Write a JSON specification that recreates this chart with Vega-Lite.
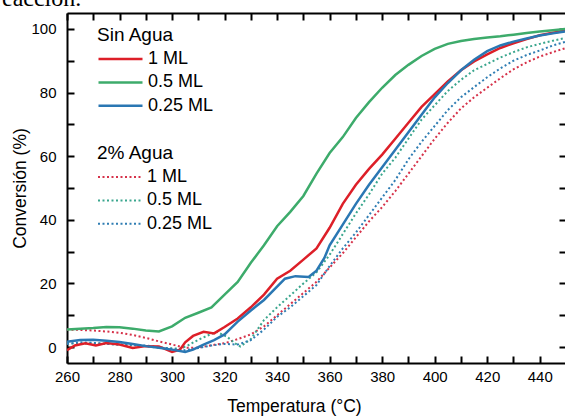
{
  "$schema": "https://vega.github.io/schema/vega-lite/v6.json",
  "autosize": "none",
  "width": 499,
  "height": 350,
  "padding": {"left": 67, "top": 13, "right": 0, "bottom": 54},
  "background": "white",
  "title": {"text": "reacción.", "font": "Liberation Serif", "fontSize": 24, "fontWeight": "normal", "anchor": "start", "frame": "group", "dx": -73, "offset": -18, "baseline": "alphabetic", "color": "black"},
  "config": {"view": {"stroke": null}},
  "datasets": {
    "d": [
      {"agua":"Sin Agua","serie":"1 ML","T":260,"conv":-1.0},{"agua":"Sin Agua","serie":"1 ML","T":263,"conv":0.5},{"agua":"Sin Agua","serie":"1 ML","T":267,"conv":1.2},{"agua":"Sin Agua","serie":"1 ML","T":271,"conv":0.5},{"agua":"Sin Agua","serie":"1 ML","T":275,"conv":1.3},{"agua":"Sin Agua","serie":"1 ML","T":280,"conv":0.8},{"agua":"Sin Agua","serie":"1 ML","T":285,"conv":-0.3},{"agua":"Sin Agua","serie":"1 ML","T":290,"conv":0.3},{"agua":"Sin Agua","serie":"1 ML","T":295,"conv":0.2},{"agua":"Sin Agua","serie":"1 ML","T":300,"conv":-1.5},{"agua":"Sin Agua","serie":"1 ML","T":303,"conv":-0.8},{"agua":"Sin Agua","serie":"1 ML","T":305,"conv":1.5},{"agua":"Sin Agua","serie":"1 ML","T":308,"conv":3.5},{"agua":"Sin Agua","serie":"1 ML","T":312,"conv":4.8},{"agua":"Sin Agua","serie":"1 ML","T":316,"conv":4.3},{"agua":"Sin Agua","serie":"1 ML","T":320,"conv":6.3},{"agua":"Sin Agua","serie":"1 ML","T":325,"conv":9.0},{"agua":"Sin Agua","serie":"1 ML","T":330,"conv":12.5},{"agua":"Sin Agua","serie":"1 ML","T":335,"conv":16.5},{"agua":"Sin Agua","serie":"1 ML","T":340,"conv":21.5},{"agua":"Sin Agua","serie":"1 ML","T":345,"conv":24.0},{"agua":"Sin Agua","serie":"1 ML","T":350,"conv":27.5},{"agua":"Sin Agua","serie":"1 ML","T":355,"conv":31.0},{"agua":"Sin Agua","serie":"1 ML","T":360,"conv":37.5},{"agua":"Sin Agua","serie":"1 ML","T":365,"conv":45.0},{"agua":"Sin Agua","serie":"1 ML","T":370,"conv":51.0},{"agua":"Sin Agua","serie":"1 ML","T":375,"conv":56.0},{"agua":"Sin Agua","serie":"1 ML","T":380,"conv":60.5},{"agua":"Sin Agua","serie":"1 ML","T":385,"conv":65.5},{"agua":"Sin Agua","serie":"1 ML","T":390,"conv":70.5},{"agua":"Sin Agua","serie":"1 ML","T":395,"conv":75.5},{"agua":"Sin Agua","serie":"1 ML","T":400,"conv":79.5},{"agua":"Sin Agua","serie":"1 ML","T":405,"conv":83.5},{"agua":"Sin Agua","serie":"1 ML","T":410,"conv":87.0},{"agua":"Sin Agua","serie":"1 ML","T":415,"conv":89.8},{"agua":"Sin Agua","serie":"1 ML","T":420,"conv":92.0},{"agua":"Sin Agua","serie":"1 ML","T":425,"conv":94.0},{"agua":"Sin Agua","serie":"1 ML","T":430,"conv":95.5},{"agua":"Sin Agua","serie":"1 ML","T":435,"conv":96.8},{"agua":"Sin Agua","serie":"1 ML","T":440,"conv":98.0},{"agua":"Sin Agua","serie":"1 ML","T":445,"conv":98.8},{"agua":"Sin Agua","serie":"1 ML","T":450,"conv":99.5},

      {"agua":"Sin Agua","serie":"0.5 ML","T":260,"conv":5.5},{"agua":"Sin Agua","serie":"0.5 ML","T":265,"conv":5.8},{"agua":"Sin Agua","serie":"0.5 ML","T":270,"conv":6.0},{"agua":"Sin Agua","serie":"0.5 ML","T":275,"conv":6.3},{"agua":"Sin Agua","serie":"0.5 ML","T":280,"conv":6.2},{"agua":"Sin Agua","serie":"0.5 ML","T":285,"conv":5.8},{"agua":"Sin Agua","serie":"0.5 ML","T":290,"conv":5.2},{"agua":"Sin Agua","serie":"0.5 ML","T":295,"conv":4.9},{"agua":"Sin Agua","serie":"0.5 ML","T":300,"conv":6.5},{"agua":"Sin Agua","serie":"0.5 ML","T":305,"conv":9.2},{"agua":"Sin Agua","serie":"0.5 ML","T":310,"conv":10.8},{"agua":"Sin Agua","serie":"0.5 ML","T":315,"conv":12.5},{"agua":"Sin Agua","serie":"0.5 ML","T":320,"conv":16.5},{"agua":"Sin Agua","serie":"0.5 ML","T":325,"conv":20.5},{"agua":"Sin Agua","serie":"0.5 ML","T":330,"conv":26.5},{"agua":"Sin Agua","serie":"0.5 ML","T":335,"conv":32.0},{"agua":"Sin Agua","serie":"0.5 ML","T":340,"conv":38.0},{"agua":"Sin Agua","serie":"0.5 ML","T":345,"conv":42.5},{"agua":"Sin Agua","serie":"0.5 ML","T":350,"conv":47.5},{"agua":"Sin Agua","serie":"0.5 ML","T":355,"conv":54.5},{"agua":"Sin Agua","serie":"0.5 ML","T":360,"conv":61.0},{"agua":"Sin Agua","serie":"0.5 ML","T":365,"conv":66.0},{"agua":"Sin Agua","serie":"0.5 ML","T":370,"conv":72.0},{"agua":"Sin Agua","serie":"0.5 ML","T":375,"conv":77.0},{"agua":"Sin Agua","serie":"0.5 ML","T":380,"conv":81.5},{"agua":"Sin Agua","serie":"0.5 ML","T":385,"conv":85.5},{"agua":"Sin Agua","serie":"0.5 ML","T":390,"conv":88.7},{"agua":"Sin Agua","serie":"0.5 ML","T":395,"conv":91.5},{"agua":"Sin Agua","serie":"0.5 ML","T":400,"conv":93.7},{"agua":"Sin Agua","serie":"0.5 ML","T":405,"conv":95.3},{"agua":"Sin Agua","serie":"0.5 ML","T":410,"conv":96.2},{"agua":"Sin Agua","serie":"0.5 ML","T":415,"conv":96.8},{"agua":"Sin Agua","serie":"0.5 ML","T":420,"conv":97.3},{"agua":"Sin Agua","serie":"0.5 ML","T":425,"conv":97.7},{"agua":"Sin Agua","serie":"0.5 ML","T":430,"conv":98.2},{"agua":"Sin Agua","serie":"0.5 ML","T":435,"conv":98.7},{"agua":"Sin Agua","serie":"0.5 ML","T":440,"conv":99.2},{"agua":"Sin Agua","serie":"0.5 ML","T":445,"conv":99.6},{"agua":"Sin Agua","serie":"0.5 ML","T":450,"conv":100.0},

      {"agua":"Sin Agua","serie":"0.25 ML","T":260,"conv":1.7},{"agua":"Sin Agua","serie":"0.25 ML","T":265,"conv":2.2},{"agua":"Sin Agua","serie":"0.25 ML","T":270,"conv":2.3},{"agua":"Sin Agua","serie":"0.25 ML","T":275,"conv":2.0},{"agua":"Sin Agua","serie":"0.25 ML","T":280,"conv":1.6},{"agua":"Sin Agua","serie":"0.25 ML","T":285,"conv":1.0},{"agua":"Sin Agua","serie":"0.25 ML","T":290,"conv":0.3},{"agua":"Sin Agua","serie":"0.25 ML","T":295,"conv":-0.2},{"agua":"Sin Agua","serie":"0.25 ML","T":300,"conv":-0.8},{"agua":"Sin Agua","serie":"0.25 ML","T":305,"conv":-1.5},{"agua":"Sin Agua","serie":"0.25 ML","T":308,"conv":-0.8},{"agua":"Sin Agua","serie":"0.25 ML","T":312,"conv":0.8},{"agua":"Sin Agua","serie":"0.25 ML","T":316,"conv":2.2},{"agua":"Sin Agua","serie":"0.25 ML","T":320,"conv":4.0},{"agua":"Sin Agua","serie":"0.25 ML","T":325,"conv":8.0},{"agua":"Sin Agua","serie":"0.25 ML","T":330,"conv":11.5},{"agua":"Sin Agua","serie":"0.25 ML","T":335,"conv":14.8},{"agua":"Sin Agua","serie":"0.25 ML","T":340,"conv":19.0},{"agua":"Sin Agua","serie":"0.25 ML","T":343,"conv":21.5},{"agua":"Sin Agua","serie":"0.25 ML","T":347,"conv":22.3},{"agua":"Sin Agua","serie":"0.25 ML","T":352,"conv":22.0},{"agua":"Sin Agua","serie":"0.25 ML","T":355,"conv":24.0},{"agua":"Sin Agua","serie":"0.25 ML","T":358,"conv":28.0},{"agua":"Sin Agua","serie":"0.25 ML","T":360,"conv":32.0},{"agua":"Sin Agua","serie":"0.25 ML","T":365,"conv":38.5},{"agua":"Sin Agua","serie":"0.25 ML","T":370,"conv":45.0},{"agua":"Sin Agua","serie":"0.25 ML","T":375,"conv":51.0},{"agua":"Sin Agua","serie":"0.25 ML","T":380,"conv":56.5},{"agua":"Sin Agua","serie":"0.25 ML","T":385,"conv":62.0},{"agua":"Sin Agua","serie":"0.25 ML","T":390,"conv":67.5},{"agua":"Sin Agua","serie":"0.25 ML","T":395,"conv":73.0},{"agua":"Sin Agua","serie":"0.25 ML","T":400,"conv":78.5},{"agua":"Sin Agua","serie":"0.25 ML","T":405,"conv":83.0},{"agua":"Sin Agua","serie":"0.25 ML","T":410,"conv":87.0},{"agua":"Sin Agua","serie":"0.25 ML","T":415,"conv":90.3},{"agua":"Sin Agua","serie":"0.25 ML","T":420,"conv":93.0},{"agua":"Sin Agua","serie":"0.25 ML","T":425,"conv":94.8},{"agua":"Sin Agua","serie":"0.25 ML","T":430,"conv":96.0},{"agua":"Sin Agua","serie":"0.25 ML","T":435,"conv":97.0},{"agua":"Sin Agua","serie":"0.25 ML","T":440,"conv":97.9},{"agua":"Sin Agua","serie":"0.25 ML","T":445,"conv":98.6},{"agua":"Sin Agua","serie":"0.25 ML","T":450,"conv":99.2},

      {"agua":"2% Agua","serie":"1 ML","T":260,"conv":5.5},{"agua":"2% Agua","serie":"1 ML","T":265,"conv":5.4},{"agua":"2% Agua","serie":"1 ML","T":270,"conv":5.2},{"agua":"2% Agua","serie":"1 ML","T":275,"conv":4.9},{"agua":"2% Agua","serie":"1 ML","T":280,"conv":4.5},{"agua":"2% Agua","serie":"1 ML","T":285,"conv":3.8},{"agua":"2% Agua","serie":"1 ML","T":290,"conv":2.9},{"agua":"2% Agua","serie":"1 ML","T":295,"conv":1.8},{"agua":"2% Agua","serie":"1 ML","T":300,"conv":0.8},{"agua":"2% Agua","serie":"1 ML","T":305,"conv":-0.2},{"agua":"2% Agua","serie":"1 ML","T":310,"conv":-0.2},{"agua":"2% Agua","serie":"1 ML","T":315,"conv":0.6},{"agua":"2% Agua","serie":"1 ML","T":320,"conv":1.2},{"agua":"2% Agua","serie":"1 ML","T":325,"conv":2.5},{"agua":"2% Agua","serie":"1 ML","T":330,"conv":4.0},{"agua":"2% Agua","serie":"1 ML","T":335,"conv":6.5},{"agua":"2% Agua","serie":"1 ML","T":340,"conv":10.0},{"agua":"2% Agua","serie":"1 ML","T":345,"conv":13.5},{"agua":"2% Agua","serie":"1 ML","T":350,"conv":17.0},{"agua":"2% Agua","serie":"1 ML","T":355,"conv":20.5},{"agua":"2% Agua","serie":"1 ML","T":360,"conv":25.0},{"agua":"2% Agua","serie":"1 ML","T":365,"conv":29.5},{"agua":"2% Agua","serie":"1 ML","T":370,"conv":34.5},{"agua":"2% Agua","serie":"1 ML","T":375,"conv":39.5},{"agua":"2% Agua","serie":"1 ML","T":380,"conv":44.0},{"agua":"2% Agua","serie":"1 ML","T":385,"conv":49.0},{"agua":"2% Agua","serie":"1 ML","T":390,"conv":54.5},{"agua":"2% Agua","serie":"1 ML","T":395,"conv":60.0},{"agua":"2% Agua","serie":"1 ML","T":400,"conv":65.5},{"agua":"2% Agua","serie":"1 ML","T":405,"conv":70.5},{"agua":"2% Agua","serie":"1 ML","T":410,"conv":75.0},{"agua":"2% Agua","serie":"1 ML","T":415,"conv":78.5},{"agua":"2% Agua","serie":"1 ML","T":420,"conv":81.5},{"agua":"2% Agua","serie":"1 ML","T":425,"conv":84.5},{"agua":"2% Agua","serie":"1 ML","T":430,"conv":87.3},{"agua":"2% Agua","serie":"1 ML","T":435,"conv":89.5},{"agua":"2% Agua","serie":"1 ML","T":440,"conv":91.3},{"agua":"2% Agua","serie":"1 ML","T":445,"conv":92.7},{"agua":"2% Agua","serie":"1 ML","T":450,"conv":94.0},

      {"agua":"2% Agua","serie":"0.5 ML","T":260,"conv":1.2},{"agua":"2% Agua","serie":"0.5 ML","T":265,"conv":1.0},{"agua":"2% Agua","serie":"0.5 ML","T":270,"conv":1.3},{"agua":"2% Agua","serie":"0.5 ML","T":275,"conv":1.0},{"agua":"2% Agua","serie":"0.5 ML","T":280,"conv":0.8},{"agua":"2% Agua","serie":"0.5 ML","T":285,"conv":0.6},{"agua":"2% Agua","serie":"0.5 ML","T":290,"conv":0.3},{"agua":"2% Agua","serie":"0.5 ML","T":295,"conv":-0.2},{"agua":"2% Agua","serie":"0.5 ML","T":300,"conv":-0.4},{"agua":"2% Agua","serie":"0.5 ML","T":303,"conv":-0.5},{"agua":"2% Agua","serie":"0.5 ML","T":306,"conv":0.5},{"agua":"2% Agua","serie":"0.5 ML","T":310,"conv":2.3},{"agua":"2% Agua","serie":"0.5 ML","T":314,"conv":3.8},{"agua":"2% Agua","serie":"0.5 ML","T":317,"conv":4.8},{"agua":"2% Agua","serie":"0.5 ML","T":321,"conv":3.2},{"agua":"2% Agua","serie":"0.5 ML","T":324,"conv":1.2},{"agua":"2% Agua","serie":"0.5 ML","T":326,"conv":0.2},{"agua":"2% Agua","serie":"0.5 ML","T":330,"conv":2.5},{"agua":"2% Agua","serie":"0.5 ML","T":335,"conv":8.5},{"agua":"2% Agua","serie":"0.5 ML","T":340,"conv":12.5},{"agua":"2% Agua","serie":"0.5 ML","T":345,"conv":16.2},{"agua":"2% Agua","serie":"0.5 ML","T":350,"conv":20.0},{"agua":"2% Agua","serie":"0.5 ML","T":355,"conv":23.5},{"agua":"2% Agua","serie":"0.5 ML","T":360,"conv":29.0},{"agua":"2% Agua","serie":"0.5 ML","T":365,"conv":35.5},{"agua":"2% Agua","serie":"0.5 ML","T":370,"conv":42.0},{"agua":"2% Agua","serie":"0.5 ML","T":375,"conv":48.0},{"agua":"2% Agua","serie":"0.5 ML","T":380,"conv":54.5},{"agua":"2% Agua","serie":"0.5 ML","T":385,"conv":59.5},{"agua":"2% Agua","serie":"0.5 ML","T":390,"conv":65.5},{"agua":"2% Agua","serie":"0.5 ML","T":395,"conv":71.5},{"agua":"2% Agua","serie":"0.5 ML","T":400,"conv":76.0},{"agua":"2% Agua","serie":"0.5 ML","T":405,"conv":80.5},{"agua":"2% Agua","serie":"0.5 ML","T":410,"conv":84.0},{"agua":"2% Agua","serie":"0.5 ML","T":415,"conv":87.0},{"agua":"2% Agua","serie":"0.5 ML","T":420,"conv":89.0},{"agua":"2% Agua","serie":"0.5 ML","T":425,"conv":91.0},{"agua":"2% Agua","serie":"0.5 ML","T":430,"conv":92.7},{"agua":"2% Agua","serie":"0.5 ML","T":435,"conv":94.2},{"agua":"2% Agua","serie":"0.5 ML","T":440,"conv":95.3},{"agua":"2% Agua","serie":"0.5 ML","T":445,"conv":96.3},{"agua":"2% Agua","serie":"0.5 ML","T":450,"conv":97.2},

      {"agua":"2% Agua","serie":"0.25 ML","T":260,"conv":1.0},{"agua":"2% Agua","serie":"0.25 ML","T":265,"conv":1.5},{"agua":"2% Agua","serie":"0.25 ML","T":270,"conv":1.3},{"agua":"2% Agua","serie":"0.25 ML","T":275,"conv":1.0},{"agua":"2% Agua","serie":"0.25 ML","T":280,"conv":0.8},{"agua":"2% Agua","serie":"0.25 ML","T":285,"conv":0.7},{"agua":"2% Agua","serie":"0.25 ML","T":290,"conv":0.5},{"agua":"2% Agua","serie":"0.25 ML","T":295,"conv":0.0},{"agua":"2% Agua","serie":"0.25 ML","T":300,"conv":-0.6},{"agua":"2% Agua","serie":"0.25 ML","T":305,"conv":-1.0},{"agua":"2% Agua","serie":"0.25 ML","T":310,"conv":-0.3},{"agua":"2% Agua","serie":"0.25 ML","T":315,"conv":0.5},{"agua":"2% Agua","serie":"0.25 ML","T":320,"conv":1.0},{"agua":"2% Agua","serie":"0.25 ML","T":325,"conv":0.8},{"agua":"2% Agua","serie":"0.25 ML","T":330,"conv":2.2},{"agua":"2% Agua","serie":"0.25 ML","T":335,"conv":5.5},{"agua":"2% Agua","serie":"0.25 ML","T":340,"conv":9.5},{"agua":"2% Agua","serie":"0.25 ML","T":345,"conv":12.5},{"agua":"2% Agua","serie":"0.25 ML","T":350,"conv":16.0},{"agua":"2% Agua","serie":"0.25 ML","T":355,"conv":19.5},{"agua":"2% Agua","serie":"0.25 ML","T":360,"conv":25.5},{"agua":"2% Agua","serie":"0.25 ML","T":365,"conv":31.0},{"agua":"2% Agua","serie":"0.25 ML","T":370,"conv":36.0},{"agua":"2% Agua","serie":"0.25 ML","T":375,"conv":41.5},{"agua":"2% Agua","serie":"0.25 ML","T":380,"conv":47.0},{"agua":"2% Agua","serie":"0.25 ML","T":385,"conv":52.5},{"agua":"2% Agua","serie":"0.25 ML","T":390,"conv":59.0},{"agua":"2% Agua","serie":"0.25 ML","T":395,"conv":64.5},{"agua":"2% Agua","serie":"0.25 ML","T":400,"conv":69.5},{"agua":"2% Agua","serie":"0.25 ML","T":405,"conv":74.5},{"agua":"2% Agua","serie":"0.25 ML","T":410,"conv":78.5},{"agua":"2% Agua","serie":"0.25 ML","T":415,"conv":81.7},{"agua":"2% Agua","serie":"0.25 ML","T":420,"conv":84.8},{"agua":"2% Agua","serie":"0.25 ML","T":425,"conv":87.6},{"agua":"2% Agua","serie":"0.25 ML","T":430,"conv":90.0},{"agua":"2% Agua","serie":"0.25 ML","T":435,"conv":91.8},{"agua":"2% Agua","serie":"0.25 ML","T":440,"conv":93.2},{"agua":"2% Agua","serie":"0.25 ML","T":445,"conv":94.8},{"agua":"2% Agua","serie":"0.25 ML","T":450,"conv":96.0}
    ]
  },
  "data": {"name": "d"},
  "layer": [
    {
      "transform": [{"filter": "datum.agua === '2% Agua'"}],
      "mark": {"type": "line", "strokeWidth": 2, "strokeDash": [2, 2.5], "clip": true},
      "encoding": {
        "x": {"field": "T", "type": "quantitative", "scale": {"domain": [260, 450], "nice": false, "zero": false},
          "axis": {"orient": "top", "values": [260,270,280,290,300,310,320,330,340,350,360,370,380,390,400,410,420,430,440], "labels": false, "title": null, "grid": false, "domainColor": "black", "domainWidth": 2, "tickColor": "black", "tickWidth": 2, "tickSize": -7,
            "encode": {"ticks": {"update": {"y2": {"signal": "datum.value % 20 === 0 ? 7 : 4"}}}}}},
        "y": {"field": "conv", "type": "quantitative", "scale": {"domain": [-5, 105], "nice": false, "zero": false},
          "axis": {"orient": "right", "values": [0,10,20,30,40,50,60,70,80,90,100], "labels": false, "title": null, "grid": false, "domainColor": "black", "domainWidth": 2, "tickColor": "black", "tickWidth": 2, "tickSize": -7,
            "encode": {"ticks": {"update": {"x2": {"signal": "datum.value % 20 === 0 ? -7 : -4"}}}}}},
        "color": {"field": "serie", "type": "nominal", "title": "2% Agua",
          "scale": {"domain": ["1 ML", "0.5 ML", "0.25 ML"], "range": ["#d6324a", "#3aa68e", "#2f7db3"]},
          "legend": {"orient": "none", "legendX": 30, "legendY": 131, "symbolType": "stroke", "symbolSize": 1936, "symbolStrokeWidth": 2, "symbolDash": [2, 2.5], "titleFont": "Liberation Sans", "titleFontSize": 19, "titleFontWeight": "normal", "titleColor": "black", "labelFont": "Liberation Sans", "labelFontSize": 18, "labelColor": "black", "labelOffset": 4, "clipHeight": 20, "rowPadding": 3.4, "titlePadding": 4}}
      }
    },
    {
      "transform": [{"filter": "datum.agua === 'Sin Agua'"}],
      "mark": {"type": "line", "strokeWidth": 2.5, "clip": true},
      "encoding": {
        "x": {"field": "T", "type": "quantitative", "title": "Temperatura (°C)",
          "axis": {"orient": "bottom", "values": [260,270,280,290,300,310,320,330,340,350,360,370,380,390,400,410,420,430,440], "labelExpr": "datum.value % 20 === 0 ? datum.label : ''", "grid": false, "domainColor": "black", "domainWidth": 2, "tickColor": "black", "tickWidth": 2, "tickSize": -7, "labelPadding": 13, "labelFont": "Liberation Sans", "labelFontSize": 15, "labelColor": "black", "labelFlush": false, "titleFont": "Liberation Sans", "titleFontSize": 17.5, "titleFontWeight": "normal", "titleColor": "black", "titlePadding": 13, "titleX": 227, "titleAlign": "center",
            "encode": {"ticks": {"update": {"y2": {"signal": "datum.value % 20 === 0 ? -7 : -4"}}}}}},
        "y": {"field": "conv", "type": "quantitative", "title": "Conversión (%)",
          "axis": {"orient": "left", "values": [0,10,20,30,40,50,60,70,80,90,100], "labelExpr": "datum.value % 20 === 0 ? datum.label : ''", "grid": false, "domainColor": "black", "domainWidth": 2, "tickColor": "black", "tickWidth": 2, "tickSize": -7, "labelPadding": 18, "labelFont": "Liberation Sans", "labelFontSize": 15, "labelColor": "black", "labelFlush": false, "titleFont": "Liberation Sans", "titleFontSize": 17.5, "titleFontWeight": "normal", "titleColor": "black", "titlePadding": 1,
            "encode": {"ticks": {"update": {"x2": {"signal": "datum.value % 20 === 0 ? 7 : 4"}}}}}},
        "color": {"field": "serie", "type": "nominal", "title": "Sin Agua",
          "scale": {"domain": ["1 ML", "0.5 ML", "0.25 ML"], "range": ["#dd1f28", "#3dab6b", "#2a77b3"]},
          "legend": {"orient": "none", "legendX": 30, "legendY": 13, "symbolType": "stroke", "symbolSize": 1936, "symbolStrokeWidth": 2.5, "titleFont": "Liberation Sans", "titleFontSize": 19, "titleFontWeight": "normal", "titleColor": "black", "labelFont": "Liberation Sans", "labelFontSize": 18, "labelColor": "black", "labelOffset": 4, "clipHeight": 20, "rowPadding": 3.4, "titlePadding": 4}}
      }
    }
  ],
  "resolve": {"scale": {"color": "independent"}, "axis": {"x": "independent", "y": "independent"}}
}
